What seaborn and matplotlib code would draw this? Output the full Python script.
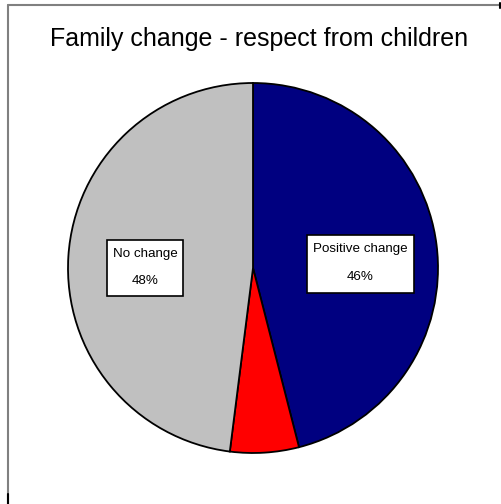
import matplotlib
matplotlib.use("Agg")
import matplotlib.pyplot as plt
from matplotlib.patches import Rectangle
from matplotlib.lines import Line2D
import seaborn as sns

sns.set_style("white")
plt.rcParams["font.family"] = ["Liberation Sans", "DejaVu Sans"]
plt.rcParams["text.color"] = "black"

title = "Family change - respect from children"
categories = ["Positive change", "Other", "No change"]
shares = [46, 6, 48]
colors = ["#000080", "#FF0000", "#C0C0C0"]
labelled = {"Positive change": (0.581, 0.022, 107, 58),
            "No change": (-0.584, 0.0, 76, 56)}

W, H = 502, 504
fig = plt.figure(figsize=(W / 100, H / 100), dpi=100)

# pie axes: centre (253, 268) px from top-left, radius 185 px
cx, cy, r = 253, 268, 185
ax = fig.add_axes([(cx - r) / W, (H - cy - r) / H, 2 * r / W, 2 * r / H])
ax.pie(shares, colors=colors, startangle=90, counterclock=False,
       wedgeprops=dict(edgecolor="black", linewidth=1.3))
ax.set_xlim(-1, 1)
ax.set_ylim(-1, 1)
ax.set_aspect("equal")
ax.axis("off")

# labelled slices: white box with name and percentage
total = sum(shares)
for name, val in zip(categories, shares):
    if name not in labelled:
        continue
    x, y, bw, bh = labelled[name]
    w, h = bw / r, bh / r
    ax.add_patch(Rectangle((x - w / 2, y - h / 2), w, h, facecolor="white",
                           edgecolor="black", linewidth=1.2, zorder=5))
    ax.text(x, y + h * 0.25, name, ha="center", va="center", fontsize=9.6,
            zorder=6)
    ax.text(x, y - h * 0.23, f"{round(100 * val / total)}%", ha="center",
            va="center", fontsize=9.6, zorder=6)

fig.text(259 / W, 1 - 39 / H, title, ha="center", va="center", fontsize=18)

# chart area frame (top and left edges)
fig.add_artist(Line2D([8 / W, 500 / W], [1 - 5 / H, 1 - 5 / H],
                      transform=fig.transFigure, color="#808080", lw=1.5))
fig.add_artist(Line2D([8 / W, 8 / W], [1 - 5 / H, 0],
                      transform=fig.transFigure, color="#808080", lw=1.5))
fig.add_artist(Line2D([8 / W, 8 / W], [10 / H, 0],
                      transform=fig.transFigure, color="black", lw=1.5))
fig.add_artist(Line2D([500 / W, 500 / W], [1 - 3 / H, 1 - 8 / H],
                      transform=fig.transFigure, color="black", lw=1.5))

fig.savefig("out.png", dpi=100, facecolor="white")
